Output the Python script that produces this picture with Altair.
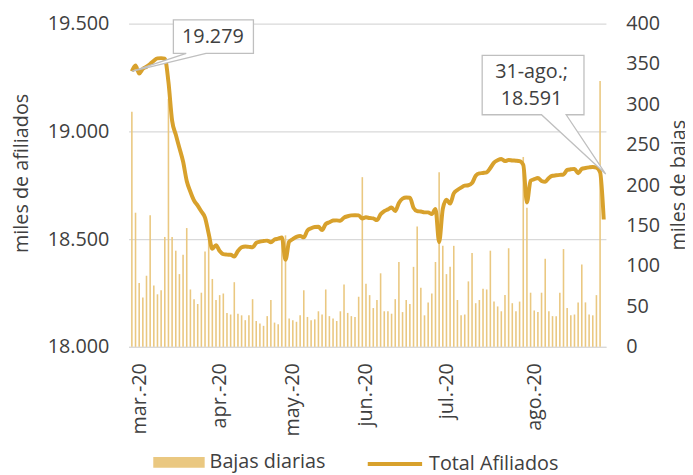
import json
import altair as alt
import pandas as pd

# ---------------- data ----------------
MONTH_LABELS = ["mar.-20", "apr.-20", "may.-20", "jun.-20", "jul.-20", "ago.-20"]
MONTH_TICK_POS = [2, 24, 44, 64, 86, 110]

# daily drops (thousands), one per business day, Mar-Aug 2020
BAJAS = [291, 166, 79, 61, 88, 163, 76, 65, 70, 136,
         307, 136, 119, 90, 114, 147, 71, 59, 53, 67,
         118, 135, 84, 58, 64, 66, 42, 40, 80, 41,
         39, 33, 39, 59, 32, 29, 26, 38, 58, 30,
         28, 134, 138, 35, 33, 31, 39, 70, 37, 33,
         34, 44, 40, 71, 38, 35, 32, 44, 77, 42,
         38, 37, 62, 210, 78, 64, 48, 58, 91, 44,
         44, 41, 59, 105, 43, 58, 53, 99, 149, 73,
         39, 55, 66, 105, 216, 125, 90, 99, 125, 58,
         39, 40, 81, 116, 54, 58, 72, 71, 119, 56,
         50, 44, 64, 122, 54, 44, 56, 235, 172, 67,
         45, 43, 67, 109, 44, 38, 38, 67, 121, 48,
         39, 40, 55, 102, 55, 40, 39, 64, 329]

# total affiliates (thousands)
AFILIADOS = [19279, 19306, 19268, 19290, 19300, 19313, 19328, 19339, 19340, 19338,
             19229, 19050, 18985, 18923, 18860, 18770, 18720, 18679, 18655, 18628,
             18600, 18525, 18455, 18472, 18445, 18430, 18428, 18427, 18419, 18445,
             18462, 18466, 18464, 18462, 18482, 18488, 18491, 18493, 18485, 18498,
             18502, 18508, 18404, 18488, 18500, 18510, 18514, 18508, 18540, 18550,
             18556, 18557, 18542, 18570, 18578, 18586, 18587, 18585, 18600, 18606,
             18610, 18611, 18610, 18596, 18601, 18598, 18596, 18588, 18615, 18630,
             18638, 18647, 18630, 18668, 18688, 18693, 18692, 18645, 18630, 18628,
             18624, 18624, 18616, 18640, 18486, 18640, 18683, 18665, 18712, 18728,
             18739, 18748, 18750, 18760, 18794, 18805, 18807, 18810, 18830, 18855,
             18866, 18872, 18862, 18867, 18865, 18864, 18862, 18845, 18670, 18771,
             18778, 18784, 18770, 18766, 18784, 18794, 18796, 18798, 18800, 18821,
             18824, 18826, 18806, 18826, 18830, 18833, 18835, 18832, 18810, 18591]

LAST_DATE = "31-ago."
SERIES_BAR = "Bajas diarias"
SERIES_LINE = "Total Afiliados"

# ---------------- style ----------------
FONT = "Open Sans"
TXT = "#404040"
GRID = "#D9D9D9"
BAR_COLOR = "#EAC881"
LINE_COLOR = "#D8A12C"
BOX_STROKE = "#BFBFBF"


def fmt(v):
    return f"{v:,}".replace(",", ".")


bars_df = pd.DataFrame({"i": range(len(BAJAS)), "bajas": BAJAS, "serie": SERIES_BAR})
line_df = pd.DataFrame({"i": range(len(AFILIADOS)), "afil": AFILIADOS, "serie": SERIES_LINE})
ann1 = pd.DataFrame({"i": [0], "afil": [AFILIADOS[0]], "label": [fmt(AFILIADOS[0])]})
ann2 = pd.DataFrame({"i": [len(AFILIADOS) - 1], "afil": [AFILIADOS[-1]],
                     "label": [LAST_DATE + ";\n" + fmt(AFILIADOS[-1])]})

label_expr = "{}[indexof({}, datum.value)]".format(json.dumps(MONTH_LABELS), json.dumps(MONTH_TICK_POS))

x_enc = alt.X("i:Q",
              scale=alt.Scale(domain=[-0.9, 129.6], nice=False, zero=False, padding=0),
              axis=alt.Axis(values=MONTH_TICK_POS, labelExpr=label_expr, labelAngle=270,
                            title=None, grid=False, ticks=False, tickSize=0, labelPadding=16,
                            labelOverlap=False, labelFlush=False,
                            domain=True, domainColor=GRID, domainWidth=1.3))

y_left = alt.Y("afil:Q",
               scale=alt.Scale(domain=[18000, 19500], nice=False, zero=False),
               axis=alt.Axis(orient="left", values=[18000, 18500, 19000, 19500],
                             labelExpr="replace(format(datum.value, ',d'), ',', '.')",
                             title="miles de afiliados", grid=True, gridColor=GRID, gridWidth=1.3,
                             domain=False, ticks=False, tickSize=0, labelPadding=20,
                             titleX=-108, titleY=151, titleAngle=270,
                             titleAlign="center", titleBaseline="middle"))

y_right = alt.Y("bajas:Q",
                scale=alt.Scale(domain=[0, 400], nice=False),
                axis=alt.Axis(orient="right", values=list(range(0, 401, 50)), format="d",
                              title="miles de bajas", grid=False, domain=False, ticks=False,
                              tickSize=0, labelPadding=20,
                              titleX=74, titleY=163, titleAngle=270,
                              titleAlign="center", titleBaseline="middle"))

bars = alt.Chart(bars_df).mark_bar(size=1.6, orient="vertical").encode(
    x=x_enc, y=y_right,
    color=alt.Color("serie:N", scale=alt.Scale(domain=[SERIES_BAR], range=[BAR_COLOR]),
                    legend=alt.Legend(orient="none", legendX=25, legendY=418, title=None,
                                      symbolType="M-1,-0.21H1V0.21H-1Z", symbolSize=2704,
                                      symbolStrokeWidth=0, labelFontSize=20, labelOffset=5,
                                      padding=0, labelColor=TXT, labelFont=FONT)))

line = alt.Chart(line_df).mark_line(strokeWidth=4, interpolate="monotone").encode(
    x=x_enc, y=y_left,
    stroke=alt.Stroke("serie:N", scale=alt.Scale(domain=[SERIES_LINE], range=[LINE_COLOR]),
                      legend=alt.Legend(orient="none", legendX=240, legendY=416, title=None,
                                        symbolType="stroke", symbolSize=3025, symbolStrokeWidth=4,
                                        labelFontSize=20, labelOffset=5, padding=0,
                                        labelColor=TXT, labelFont=FONT)))

# callout shapes: tip at data point (origin), scale = sqrt(size)/2 = 50 px per unit
PATH1 = "M0,0L1.1,-0.36L0.84,-0.36L0.84,-1.04L2.46,-1.04L2.46,-0.36L1.5,-0.36Z"
PATH2 = "M0.04,-0.92L-0.76,-2.12L-0.4,-2.12L-0.4,-3.32L-2.46,-3.32L-2.46,-2.12L-1.26,-2.12Z"

shape1 = alt.Chart(ann1).mark_point(shape=PATH1, size=10000, filled=True, fill="white",
                                    stroke=BOX_STROKE, strokeWidth=1.3, opacity=1).encode(x=x_enc, y=y_left)
text1 = alt.Chart(ann1).mark_text(dx=82, dy=-35, fontSize=20, font=FONT, color=TXT,
                                  align="center", baseline="middle").encode(x=x_enc, y=y_left, text="label:N")
shape2 = alt.Chart(ann2).mark_point(shape=PATH2, size=10000, filled=True, fill="white",
                                    stroke=BOX_STROKE, strokeWidth=1.3, opacity=1).encode(x=x_enc, y=y_left)
text2 = alt.Chart(ann2).mark_text(dx=-73, dy=-149, fontSize=20, font=FONT, color=TXT, lineHeight=27,
                                  lineBreak="\n", align="center", baseline="middle").encode(
    x=x_enc, y=y_left, text="label:N")

left_group = alt.layer(line, shape1, text1, shape2, text2)

chart = alt.layer(bars, left_group).resolve_scale(y="independent").properties(
    width=483, height=327,
    autosize=alt.AutoSizeParams(type="none"),
    padding={"left": 122, "top": 13, "right": 80, "bottom": 140},
).configure_axis(
    labelFont=FONT, titleFont=FONT, labelColor=TXT, titleColor=TXT,
    labelFontSize=20, titleFontSize=20, titleFontWeight="normal",
).configure_view(stroke=None)

chart.save("out.html", embed_options={"renderer": "svg", "actions": False})
